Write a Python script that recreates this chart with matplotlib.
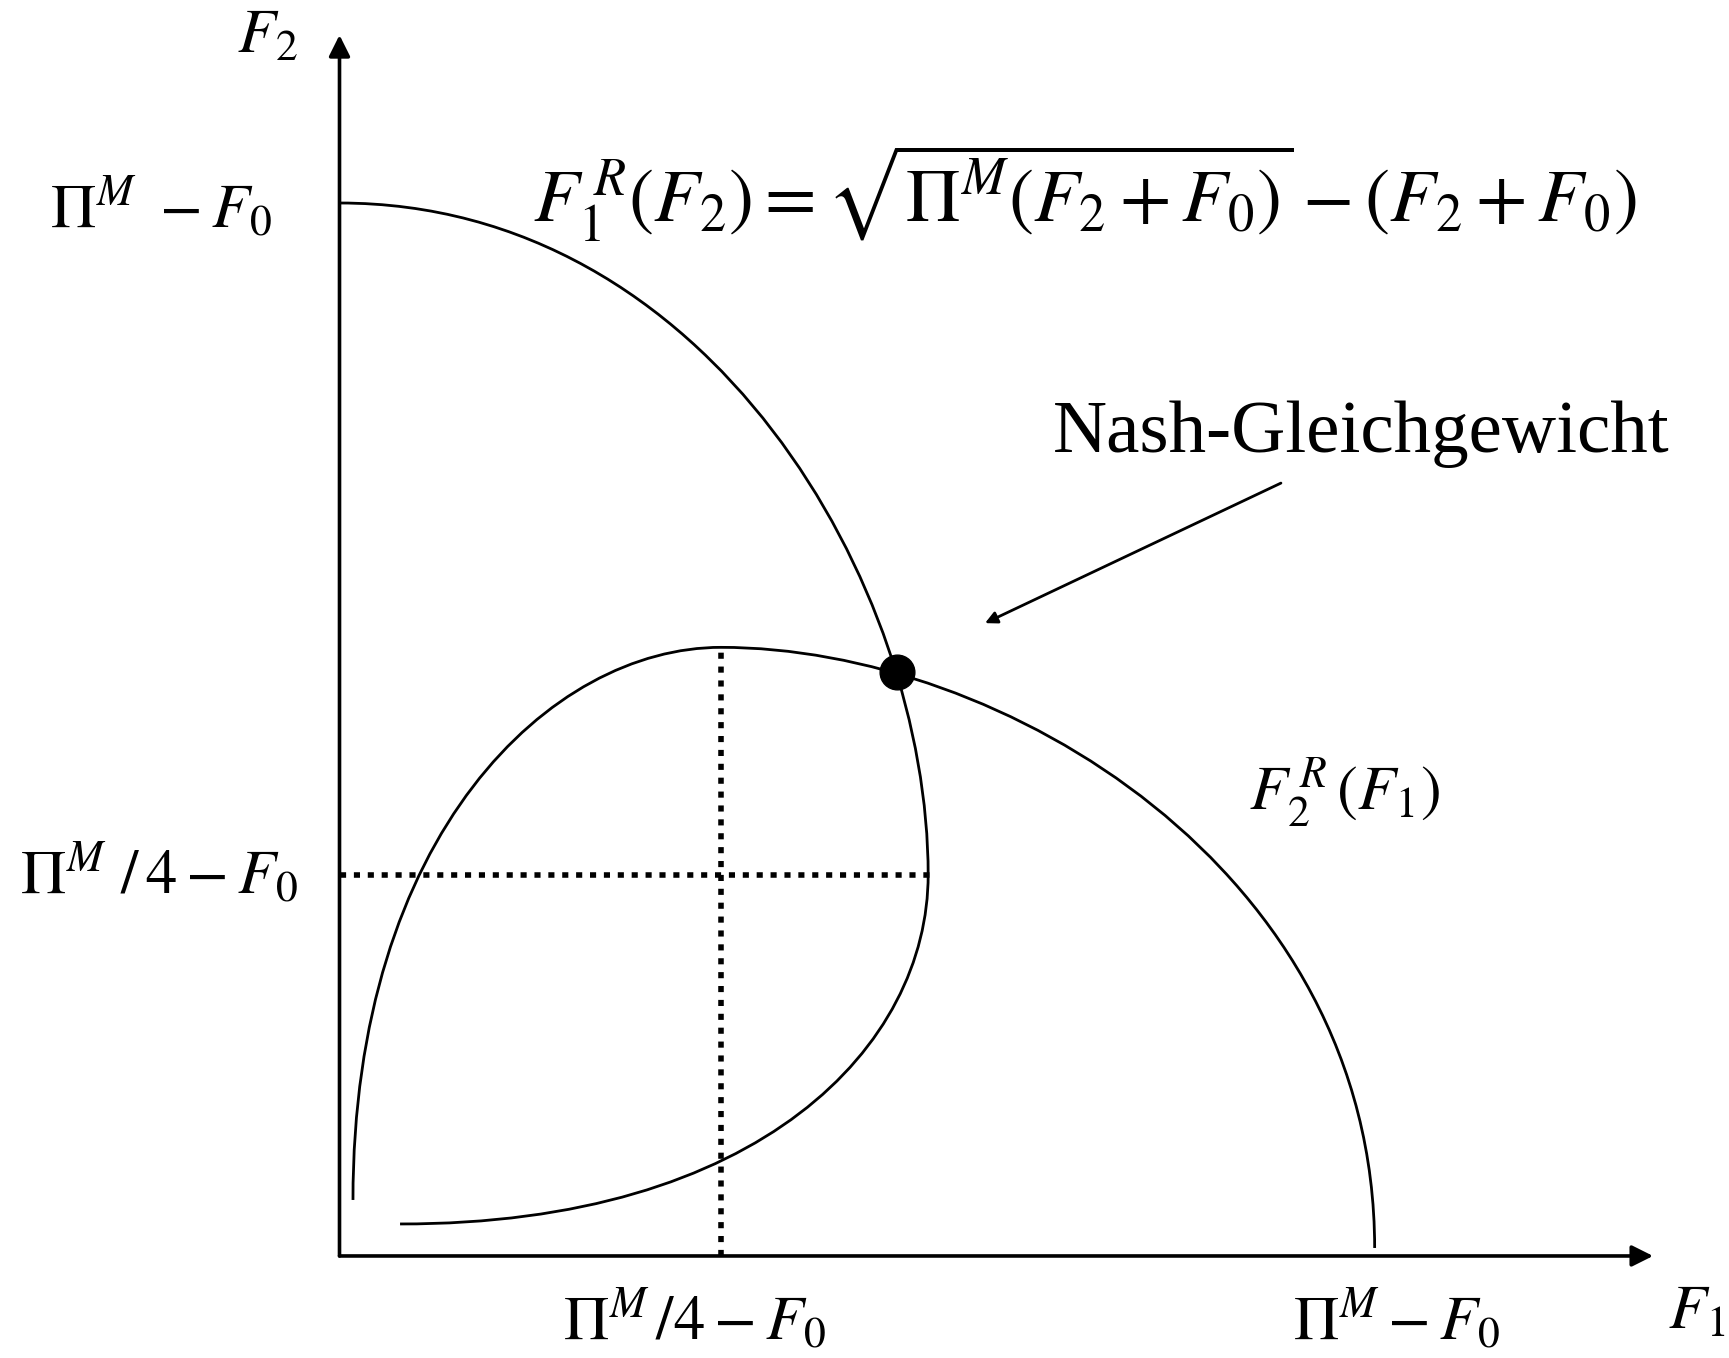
import matplotlib
matplotlib.use("Agg")
import matplotlib.pyplot as plt
from matplotlib.path import Path
from matplotlib.patches import PathPatch

plt.rcParams['mathtext.fontset'] = 'stix'
plt.rcParams['font.family'] = ['Liberation Serif', 'DejaVu Serif']

# Reaction curves (schematic), cubic Bezier control points in units of (Pi^M - F0)
r1_pts = [(0.0, 1.0), (0.351, 1.0), (0.559, 0.637), (0.559, 0.362),
          (0.559, 0.20), (0.40, 0.03), (0.0575, 0.0304)]
r2_pts = [(0.983, 0.0076), (0.983, 0.367), (0.629, 0.578), (0.3623, 0.578),
          (0.20, 0.578), (0.0128, 0.40), (0.0128, 0.0532)]

nash = (0.529, 0.555)
quarter = 0.3623          # Pi^M/4 - F0 on the F1 axis
quarter_y = 0.362         # Pi^M/4 - F0 on the F2 axis
x_end, y_end = 1.2474, 1.1595

formula = (r'$F_1^{\,R}(F_2)=\sqrt{\Pi^{M}(F_2+F_0)}'
           r'-(F_2+F_0)$')
label_r2 = r'$F_2^{\,R}\,(F_1)$'
label_top = r'$\Pi^{M}\ -F_0$'
label_quarter = r'$\Pi^{M}\ /\,4-F_0$'
label_top_x = r'$\Pi^{M}-F_0$'
label_quarter_x = r'$\Pi^{M}\,/4-F_0$'

fig = plt.figure(figsize=(17.29, 13.58), dpi=100)
ax = fig.add_axes([0, 0, 1, 1])
ax.set_xlim(-0.3224, 1.3195)
ax.set_ylim(-0.0969, 1.1928)
ax.axis('off')

codes = [Path.MOVETO] + [Path.CURVE4] * 6
for pts in (r1_pts, r2_pts):
    ax.add_patch(PathPatch(Path(pts, codes), fill=False, lw=2.0, ec='black'))

# axes with arrows
ax.annotate('', xy=(0, y_end), xytext=(0, 0),
            arrowprops=dict(arrowstyle='-|>', lw=2.6, color='black',
                            mutation_scale=32, shrinkA=0, shrinkB=0))
ax.annotate('', xy=(x_end, 0), xytext=(0, 0),
            arrowprops=dict(arrowstyle='-|>', lw=2.6, color='black',
                            mutation_scale=32, shrinkA=0, shrinkB=0))

# dotted guides
ax.plot([0, 0.562], [quarter_y, quarter_y], color='black', lw=4, ls=(0, (1.1, 1.4)))
ax.plot([quarter, quarter], [0, 0.575], color='black', lw=4, ls=(0, (1.1, 1.4)))

ax.plot(*nash, 'o', color='black', ms=25)

ax.annotate('', xy=(0.613, 0.601), xytext=(0.894, 0.734),
            arrowprops=dict(arrowstyle='-|>', lw=2.0, color='black',
                            mutation_scale=18, shrinkA=0, shrinkB=0))

fs = 45
ax.text(-0.0973, 1.1425, r'$F_2$', fontsize=fs, ha='left', va='baseline')
ax.text(-0.0641, 0.9772, label_top, fontsize=fs, ha='right', va='baseline')
ax.text(-0.0394, 0.3447, label_quarter, fontsize=fs, ha='right', va='baseline')
ax.text(0.337, -0.0798, label_quarter_x, fontsize=fs, ha='center', va='baseline')
ax.text(1.004, -0.0798, label_top_x, fontsize=fs, ha='center', va='baseline')
ax.text(1.262, -0.069, r'$F_1$', fontsize=fs, ha='left', va='baseline')
ax.text(0.184, 0.983, formula, fontsize=54, ha='left', va='baseline')
ax.text(0.6776, 0.7635, 'Nash-Gleichgewicht', fontsize=54, ha='left', va='baseline')
ax.text(0.864, 0.4235, label_r2, fontsize=fs, ha='left', va='baseline')

fig.savefig('out.png', dpi=100)
